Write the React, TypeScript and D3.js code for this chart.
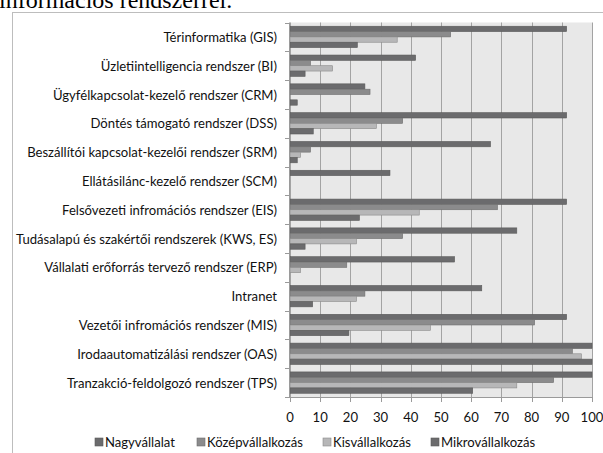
import React from "react";
import * as d3 from "d3";

const categories = [
  "Térinformatika (GIS)",
  "Üzletiintelligencia rendszer (BI)",
  "Ügyfélkapcsolat-kezelő rendszer (CRM)",
  "Döntés támogató rendszer (DSS)",
  "Beszállítói kapcsolat-kezelői rendszer (SRM)",
  "Ellátásilánc-kezelő rendszer (SCM)",
  "Felsővezeti infromációs rendszer (EIS)",
  "Tudásalapú és szakértői rendszerek (KWS, ES)",
  "Vállalati erőforrás tervező rendszer (ERP)",
  "Intranet",
  "Vezetői infromációs rendszer (MIS)",
  "Irodaautomatizálási rendszer (OAS)",
  "Tranzakció-feldolgozó rendszer (TPS)",
];

const seriesNames = ["Nagyvállalat", "Középvállalkozás", "Kisvállalkozás", "Mikrovállalkozás"];

const nagy = [91.6, 41.6, 24.8, 91.6, 66.4, 33.1, 91.6, 75.1, 54.5, 63.5, 91.6, 100, 100];
const kozep = [53.2, 6.8, 26.5, 37.3, 6.8, 0, 68.7, 37.3, 18.8, 24.8, 81.0, 93.5, 87.3];
const kis = [35.5, 14.1, 0, 28.6, 3.5, 0, 42.8, 22.0, 3.5, 22.0, 46.5, 96.5, 75.1];
const mikro = [22.3, 5.0, 2.4, 7.7, 2.4, 0, 23.0, 5.0, 0, 7.5, 19.5, 100, 60.5];

const xTicks = [0, 10, 20, 30, 40, 50, 60, 70, 80, 90, 100];

const seriesValues = [nagy, kozep, kis, mikro];
const colors = ["#6b6b6d", "#8b8b8c", "#b7b7b8", "#6b6b6d"];
const strokes = ["#5a5a5a", "#6e6e6e", "#8a8a8a", "#5a5a5a"];

const FONT = "Lato, 'Open Sans', sans-serif";

export default function App() {
  const W = 603;
  const H = 453;
  const left = 290;
  const right = 592;
  const top = 22.5;
  const bottom = 397;

  const x = d3.scaleLinear().domain([0, 100]).range([left, right]);
  const y = d3.scaleBand<string>().domain(categories).range([top, bottom]).padding(0);
  const inner = d3
    .scaleBand<string>()
    .domain(seriesNames)
    .range([0, y.bandwidth()])
    .paddingInner(0)
    .paddingOuter(0.7);

  const legendX = [95, 197, 323, 431];

  return (
    <svg
      width={W}
      height={H}
      style={{ position: "absolute", left: 0, top: 0, background: "#fff" }}
    >
      <text
        x={-1}
        y={7.5}
        fontFamily="'Liberation Serif', 'Times New Roman', serif"
        fontSize={24}
        fill="#000"
      >
        információs rendszerrel.
      </text>
      {/* chart frame */}
      <rect x={12.5} y={12.5} width={W + 20} height={H + 20} fill="#fff" stroke="#bdbdbd" strokeWidth={1} />
      {/* plot background */}
      <rect x={left} y={top} width={right - left} height={bottom - top} fill="#e8e8e8" />
      {/* gridlines */}
      {xTicks.map((t) => (
        <line
          key={"g" + t}
          x1={Math.round(x(t)) + 0.5}
          x2={Math.round(x(t)) + 0.5}
          y1={top}
          y2={bottom}
          stroke="#a3a3a3"
          strokeWidth={1}
        />
      ))}
      {/* bars */}
      {categories.map((c, i) =>
        seriesNames.map((s, j) => {
          const v = seriesValues[j][i];
          if (v <= 0) return null;
          const by = (y(c) as number) + (inner(s) as number);
          return (
            <rect
              key={c + s}
              x={x(0)}
              y={by}
              width={x(v) - x(0)}
              height={inner.bandwidth()}
              fill={colors[j]}
              stroke={strokes[j]}
              strokeWidth={0.6}
            />
          );
        })
      )}
      {/* y axis */}
      <line x1={left - 0.5} x2={left - 0.5} y1={top} y2={bottom} stroke="#9a9a9a" />
      {categories.concat(["__end"]).map((c, i) => {
        const yy = Math.round(top + i * y.step()) + 0.5;
        return <line key={"yt" + i} x1={left - 5} x2={left} y1={yy} y2={yy} stroke="#9a9a9a" />;
      })}
      {categories.map((c) => (
        <text
          key={"yl" + c}
          x={277}
          y={(y(c) as number) + y.bandwidth() / 2}
          textAnchor="end"
          dominantBaseline="central"
          fontFamily={FONT}
          fontSize={13.1}
          fill="#111"
        >
          {c}
        </text>
      ))}
      {/* x axis */}
      <line x1={left} x2={right} y1={bottom + 0.5} y2={bottom + 0.5} stroke="#9a9a9a" />
      {xTicks.map((t) => (
        <g key={"xt" + t}>
          <line
            x1={Math.round(x(t)) + 0.5}
            x2={Math.round(x(t)) + 0.5}
            y1={bottom}
            y2={bottom + 5}
            stroke="#9a9a9a"
          />
          <text
            x={x(t)}
            y={417}
            textAnchor="middle"
            dominantBaseline="central"
            fontFamily={FONT}
            fontSize={13.1}
            fill="#111"
          >
            {t}
          </text>
        </g>
      ))}
      {/* legend */}
      {seriesNames.map((s, j) => (
        <g key={"lg" + s}>
          <rect x={legendX[j]} y={438} width={8} height={8} fill={colors[j]} stroke={strokes[j]} strokeWidth={0.6} />
          <text
            x={legendX[j] + 10}
            y={442}
            dominantBaseline="central"
            fontFamily={FONT}
            fontSize={13.1}
            fill="#111"
          >
            {s}
          </text>
        </g>
      ))}
    </svg>
  );
}
